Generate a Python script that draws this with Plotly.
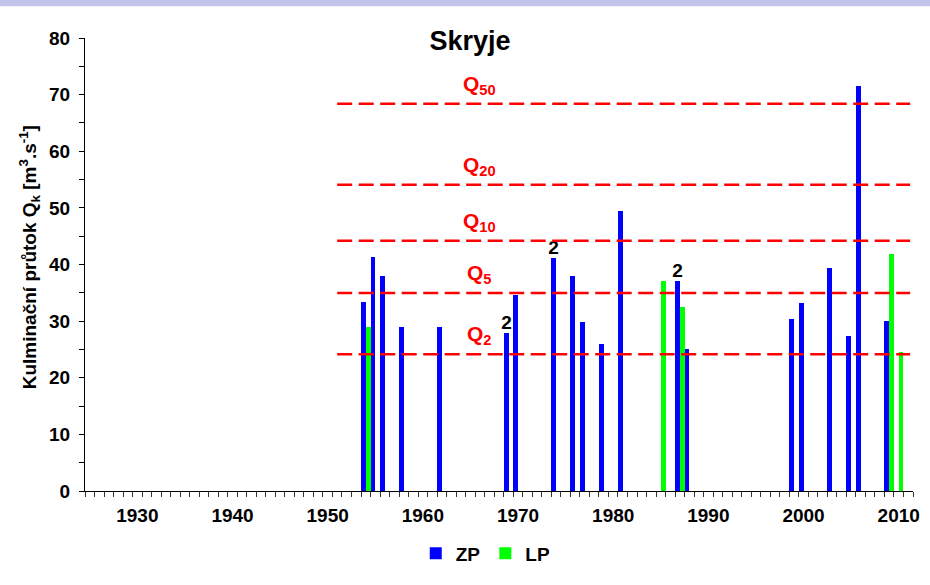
import plotly.graph_objects as go

# Peak discharges per year (m3/s): ZP = winter/spring floods, LP = summer floods
zp_years = [1954, 1955, 1956, 1958, 1962, 1969, 1970, 1974, 1976, 1977,
            1979, 1981, 1987, 1988, 1999, 2000, 2003, 2005, 2006, 2009]
zp_values = [33.3, 41.4, 38.0, 28.9, 28.9, 27.9, 34.7, 41.2, 38.0, 29.9,
             26.0, 49.4, 37.1, 25.0, 30.3, 33.2, 39.3, 27.4, 71.5, 30.1]
# number of events in the year, shown above the bar where more than one
zp_counts = {1969: "2", 1974: "2", 1987: "2"}

lp_years = [1954, 1985, 1987, 2009, 2010]
lp_values = [28.9, 37.1, 32.5, 41.9, 24.6]

# N-year design discharges
q_names = ["Q<sub>2</sub>", "Q<sub>5</sub>", "Q<sub>10</sub>", "Q<sub>20</sub>", "Q<sub>50</sub>"]
q_values = [24.15, 34.95, 44.2, 54.1, 68.4]
q_from, q_to = 1951.0, 2011.2
q_label_year = 1966.0

decades = list(range(1930, 2011, 10))
year_min, year_max = 1925, 2011

FONT = "Arial, Liberation Sans, sans-serif"
BLUE = "#0000ff"
GREEN = "#00ff00"
RED = "#ff0000"

fig = go.Figure()
fig.add_trace(go.Bar(
    x=zp_years, y=zp_values, name="ZP", marker=dict(color=BLUE, line_width=0),
    text=[zp_counts.get(y, "") for y in zp_years], textposition="outside",
    constraintext="none", cliponaxis=False,
    textfont=dict(family=FONT, size=19, color="black", weight="bold"),
))
fig.add_trace(go.Bar(
    x=lp_years, y=lp_values, name="LP", marker=dict(color=GREEN, line_width=0),
))

for name, val in zip(q_names, q_values):
    fig.add_shape(type="line", xref="x", yref="y", x0=q_from, x1=q_to, y0=val, y1=val,
                  line=dict(color=RED, width=2.5, dash="15px,6.5px"), layer="above")
    fig.add_annotation(x=q_label_year, y=val, xref="x", yref="y", text=name,
                       showarrow=False, yanchor="bottom", yshift=4,
                       font=dict(family=FONT, size=21, color=RED, weight="bold"))

# lavender strip along the top edge
fig.add_shape(type="rect", xref="paper", yref="paper", x0=-0.2, x1=1.2,
              y0=1 + 32 / 455, y1=1.2, fillcolor="#c4c4ea", line_width=0, layer="below")

fig.add_annotation(xref="paper", yref="paper", x=-0.0676, y=0.516,
                   text="Kulminační průtok Q<sub>k</sub> [m<sup>3</sup>.s<sup>-1</sup>]",
                   textangle=-90, showarrow=False, xanchor="center", yanchor="middle",
                   font=dict(family=FONT, size=19, color="black", weight="bold"))

fig.update_layout(
    template="none",
    width=930, height=585,
    margin=dict(l=85, r=17, t=38, b=92),
    paper_bgcolor="white", plot_bgcolor="white",
    barmode="group", bargap=0, bargroupgap=0,
    font=dict(family=FONT, color="black"),
    title=dict(text="Skryje", x=470 / 930, xanchor="center", y=1 - 41 / 585, yanchor="middle",
               font=dict(family=FONT, size=27, color="black", weight="bold")),
    showlegend=True,
    legend=dict(orientation="h", x=0.484, xanchor="center", y=-0.138, yanchor="middle",
                font=dict(family=FONT, size=19, color="black", weight="bold"),
                itemwidth=30, bgcolor="rgba(0,0,0,0)"),
    xaxis=dict(
        range=[year_min - 0.5, year_max + 0.5], showgrid=False, zeroline=False,
        showline=True, linecolor="black", linewidth=1,
        tickmode="array", tickvals=decades, ticktext=[str(d) for d in decades],
        ticks="", ticklabelstandoff=7,
        tickfont=dict(family=FONT, size=19, color="black", weight="bold"),
        minor=dict(tickmode="linear", tick0=year_min - 0.5, dtick=1,
                   ticks="outside", ticklen=5, tickcolor="#333", showgrid=False),
        automargin=False,
    ),
    yaxis=dict(
        range=[0, 80], dtick=10, showgrid=False, zeroline=False,
        showline=True, linecolor="black", linewidth=1,
        ticks="outside", ticklen=5, tickcolor="black", ticklabelstandoff=5,
        tickfont=dict(family=FONT, size=19, color="black", weight="bold"),
        minor=dict(dtick=5, ticks="outside", ticklen=5, tickcolor="black", showgrid=False),
        automargin=False,
    ),
)

fig.write_html("out.html")
